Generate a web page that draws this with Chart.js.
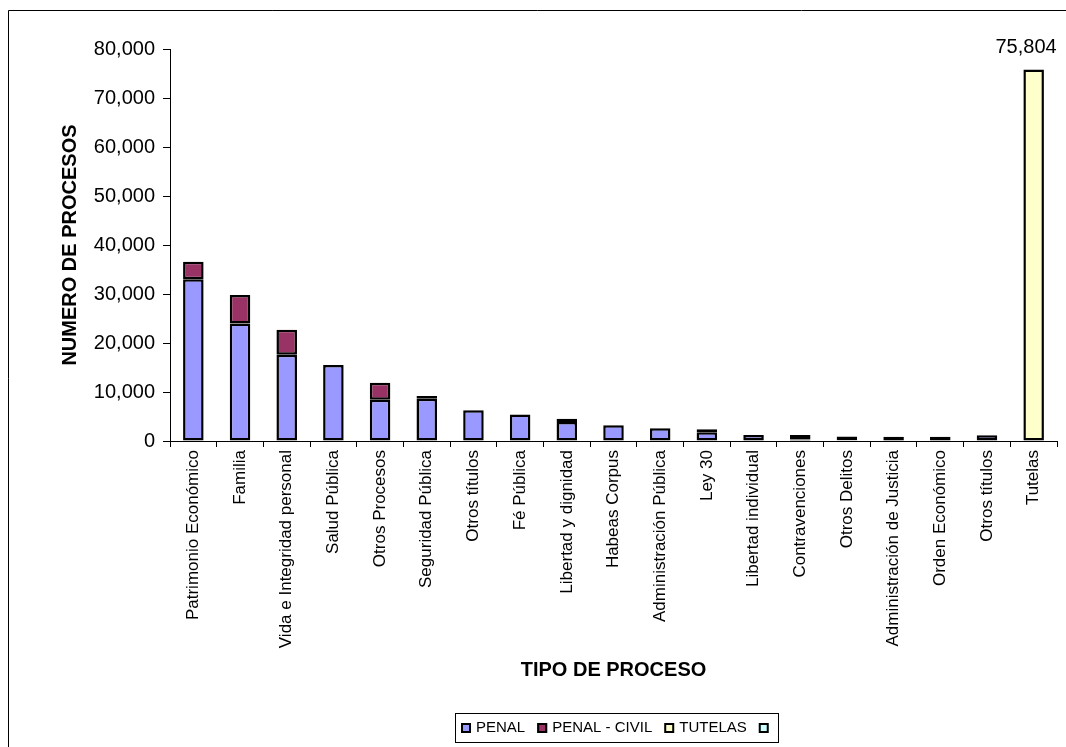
<!DOCTYPE html>
<html>
<head>
<meta charset="utf-8">
<script src="https://cdn.jsdelivr.net/npm/chart.js@4"></script>
<style>
    html, body { margin: 0; padding: 0; background: #fff; }
    #wrap { position: relative; width: 1066px; height: 747px; }
</style>
</head>
<body>
<div id="wrap"><canvas id="procesosChart" width="1066" height="747"></canvas></div>
<script>
const categorias = [
    'Patrimonio Económico', 'Familia', 'Vida e Integridad personal', 'Salud Pública',
    'Otros Procesos', 'Seguridad Pública', 'Otros títulos', 'Fé Pública',
    'Libertad y dignidad', 'Habeas Corpus', 'Administración Pública', 'Ley 30',
    'Libertad individual', 'Contravenciones', 'Otros Delitos', 'Administración de Justicia',
    'Orden Económico', 'Otros títulos', 'Tutelas'
];
const penal = [33000, 24000, 17600, 15500, 8400, 8600, 6300, 5400, 3900, 3200, 2600, 1800, 1200, 300, 150, 400, 850, 1150, null];
const penalCivil = [3600, 5800, 5100, null, 3500, 600, null, null, 650, null, null, 600, null, 900, 750, 450, null, null, null];
const tutelas = [null, null, null, null, null, null, null, null, null, null, null, null, null, null, null, null, null, null, 75804];
const sinNombre = [null, null, null, null, null, null, null, null, null, null, null, null, null, null, null, null, null, null, null];
const yTicks = [0, 10000, 20000, 30000, 40000, 50000, 60000, 70000, 80000];

const FONT = "'Liberation Sans', Arial, sans-serif";

// marco exterior (solo se ven el borde superior e izquierdo)
const marco = {
    id: 'marco',
    beforeDraw(chart) {
        const c = chart.ctx;
        c.save();
        c.strokeStyle = '#000';
        c.lineWidth = 1;
        c.beginPath();
        c.moveTo(8.5, 747);
        c.lineTo(8.5, 10.5);
        c.lineTo(1066, 10.5);
        c.stroke();
        c.restore();
    }
};

// etiqueta del valor de tutelas
const etiquetaTutelas = {
    id: 'etiquetaTutelas',
    afterDatasetsDraw(chart) {
        const meta = chart.getDatasetMeta(2);
        const c = chart.ctx;
        meta.data.forEach((bar, i) => {
            if (tutelas[i] == null) return;
            c.save();
            c.fillStyle = '#000';
            c.font = '20px ' + FONT;
            c.textAlign = 'right';
            c.textBaseline = 'middle';
            c.fillText(tutelas[i].toLocaleString('en-US'), bar.x + 23, bar.y - 22);
            c.restore();
        });
    }
};

// leyenda con recuadro, abajo al centro
const leyenda = {
    id: 'leyenda',
    afterDraw(chart) {
        const c = chart.ctx;
        c.save();
        c.strokeStyle = '#000';
        c.lineWidth = 1;
        c.strokeRect(455.5, 713.5, 323, 29);
        c.font = '15px ' + FONT;
        c.textBaseline = 'middle';
        let x = 461;
        const y = 728;
        chart.data.datasets.forEach(ds => {
            c.fillStyle = ds.backgroundColor;
            c.fillRect(x, y - 5, 10, 10);
            c.lineWidth = 2;
            c.strokeRect(x + 1, y - 4, 8, 8);
            c.fillStyle = '#000';
            c.fillText(ds.label, x + 15, y);
            x += 15 + c.measureText(ds.label).width + 12;
        });
        c.restore();
    }
};

new Chart(document.getElementById('procesosChart').getContext('2d'), {
    type: 'bar',
    data: {
        labels: categorias,
        datasets: [
            { label: 'PENAL', data: penal, backgroundColor: '#9999FF' },
            { label: 'PENAL - CIVIL', data: penalCivil, backgroundColor: '#993366' },
            { label: 'TUTELAS', data: tutelas, backgroundColor: '#FFFFCC' },
            { label: '', data: sinNombre, backgroundColor: '#CCFFFF' }
        ].map(ds => Object.assign(ds, {
            borderColor: '#000',
            borderWidth: 2.5,
            borderSkipped: false,
            barPercentage: 0.44,
            categoryPercentage: 1
        }))
    },
    options: {
        responsive: false,
        animation: false,
        layout: { padding: { top: 49, left: 0, right: 9, bottom: 47 } },
        plugins: {
            legend: { display: false },
            tooltip: { enabled: false }
        },
        scales: {
            x: {
                stacked: true,
                border: { color: '#000', width: 1 },
                grid: { drawOnChartArea: false, drawTicks: true, tickLength: 6, color: '#000', offset: true },
                ticks: {
                    color: '#000',
                    font: { family: FONT, size: 17 },
                    minRotation: 90,
                    maxRotation: 90,
                    autoSkip: false,
                    padding: 3
                },
                title: {
                    display: true,
                    text: 'TIPO DE PROCESO',
                    color: '#000',
                    font: { family: FONT, size: 20, weight: 'bold' },
                    padding: { top: 0, bottom: 18 }
                },
                afterFit(scale) { scale.height = 259; }
            },
            y: {
                stacked: true,
                min: 0,
                max: 80000,
                border: { color: '#000', width: 1 },
                grid: { drawOnChartArea: false, drawTicks: true, tickLength: 7, color: '#000' },
                afterBuildTicks(scale) { scale.ticks = yTicks.map(v => ({ value: v })); },
                ticks: {
                    color: '#000',
                    font: { family: FONT, size: 20 },
                    padding: 8,
                    callback: v => v.toLocaleString('en-US')
                },
                title: {
                    display: true,
                    text: 'NUMERO DE PROCESOS',
                    color: '#000',
                    font: { family: FONT, size: 20, weight: 'bold' },
                    padding: { top: 58, bottom: 0 }
                },
                afterFit(scale) { scale.width = 170; }
            }
        }
    },
    plugins: [marco, etiquetaTutelas, leyenda]
});
</script>
</body>
</html>
